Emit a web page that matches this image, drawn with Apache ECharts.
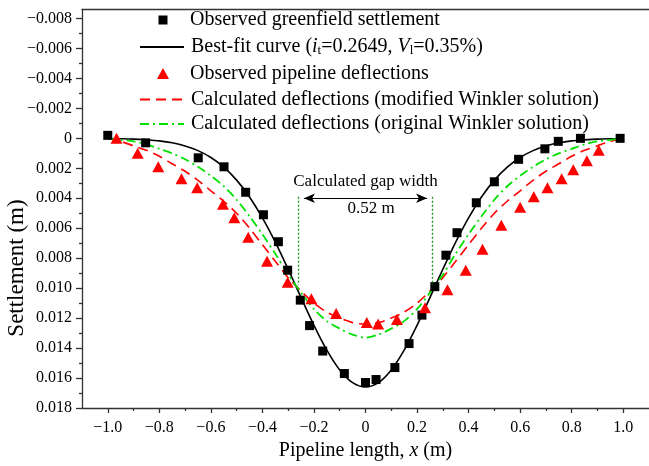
<!DOCTYPE html>
<html>
<head>
<meta charset="utf-8">
<script src="https://cdn.jsdelivr.net/npm/echarts@6/dist/echarts.min.js"></script>
<style>
  html, body { margin: 0; padding: 0; background: #fff; }
  #chart { width: 649px; height: 466px; }
</style>
</head>
<body>
<div id="chart"></div>
<script>
// curves, every 0.05 m
const curveX = [-1.00, -0.95, -0.90, -0.85, -0.80, -0.75, -0.70, -0.65, -0.60, -0.55, -0.50,
  -0.45, -0.40, -0.35, -0.30, -0.25, -0.20, -0.15, -0.10, -0.05, 0,
  0.05, 0.10, 0.15, 0.20, 0.25, 0.30, 0.35, 0.40, 0.45, 0.50,
  0.55, 0.60, 0.65, 0.70, 0.75, 0.80, 0.85, 0.90, 0.95, 1.00];
const bestFit = [0.00002, 0.00003, 0.00005, 0.00010, 0.00017, 0.00030, 0.00051, 0.00082, 0.00128, 0.00192, 0.00279,
  0.00392, 0.00531, 0.00693, 0.00874, 0.01063, 0.01248, 0.01414, 0.01546, 0.01631, 0.01660,
  0.01631, 0.01546, 0.01414, 0.01248, 0.01063, 0.00874, 0.00693, 0.00531, 0.00392, 0.00279,
  0.00192, 0.00128, 0.00082, 0.00051, 0.00030, 0.00017, 0.00010, 0.00005, 0.00003, 0.00002];
const modifiedWinkler = [0.0000, 0.0002, 0.0005, 0.0008, 0.0012, 0.0017, 0.0022, 0.0028, 0.0035, 0.0042, 0.0050,
  0.0060, 0.0071, 0.0082, 0.0093, 0.0102, 0.0110, 0.0116, 0.0120, 0.0123, 0.0124,
  0.0123, 0.0120, 0.0116, 0.0110, 0.0102, 0.0093, 0.0082, 0.0071, 0.0060, 0.0050,
  0.0042, 0.0035, 0.0028, 0.0022, 0.0017, 0.0012, 0.0008, 0.0005, 0.0002, 0.0000];
const originalWinkler = [0.0000, 0.0001, 0.0002, 0.0004, 0.0007, 0.0010, 0.0014, 0.0019, 0.0025, 0.0032, 0.0041,
  0.0052, 0.0064, 0.0077, 0.0091, 0.0103, 0.0114, 0.0122, 0.0127, 0.0131, 0.0133,
  0.0131, 0.0127, 0.0122, 0.0114, 0.0103, 0.0091, 0.0077, 0.0064, 0.0052, 0.0041,
  0.0032, 0.0025, 0.0019, 0.0014, 0.0010, 0.0007, 0.0004, 0.0002, 0.0001, 0.0000];

// measured points
const greenfieldX = [-1.0, -0.853, -0.649, -0.549, -0.465, -0.396, -0.338, -0.302, -0.253, -0.217, -0.166, -0.082, 0.0,
  0.041, 0.114, 0.169, 0.219, 0.269, 0.312, 0.355, 0.430, 0.500, 0.594, 0.696, 0.748, 0.834, 0.988];
const greenfieldY = [-0.0002, 0.0003, 0.0013, 0.0019, 0.0036, 0.0051, 0.0069, 0.0088, 0.0108, 0.0125, 0.0142, 0.0157, 0.0163,
  0.0161, 0.0153, 0.0137, 0.0118, 0.0099, 0.0078, 0.0063, 0.0043, 0.0029, 0.0014, 0.0007, 0.0002, 0.0000, 0.0000];
const pipeX = [-0.966, -0.884, -0.804, -0.714, -0.653, -0.553, -0.509, -0.455, -0.382, -0.302, -0.210, -0.114, 0.005,
  0.049, 0.122, 0.231, 0.318, 0.389, 0.454, 0.527, 0.600, 0.653, 0.706, 0.761, 0.806, 0.859, 0.905];
const pipeY = [0.0000, 0.0010, 0.0019, 0.0027, 0.0033, 0.0044, 0.0053, 0.0066, 0.0082, 0.0096, 0.0107, 0.0117, 0.0123,
  0.0124, 0.0121, 0.0113, 0.0101, 0.0088, 0.0074, 0.0058, 0.0046, 0.0039, 0.0033, 0.0027, 0.0021, 0.0015, 0.0008];

// gap annotation
const gapEdges = [-0.26, 0.26];
const gapArrowY = 0.0040;
const gapLineTop = 0.0039;
const gapLineBottom = 0.0098;

// ticks
const xMajorTicks = [-1.0, -0.8, -0.6, -0.4, -0.2, 0, 0.2, 0.4, 0.6, 0.8, 1.0];
const xMinorTicks = [-0.9, -0.7, -0.5, -0.3, -0.1, 0.1, 0.3, 0.5, 0.7, 0.9];
const yMajorTicks = [-0.008, -0.006, -0.004, -0.002, 0, 0.002, 0.004, 0.006, 0.008, 0.010, 0.012, 0.014, 0.016, 0.018];
const yMinorTicks = [-0.007, -0.005, -0.003, -0.001, 0.001, 0.003, 0.005, 0.007, 0.009, 0.011, 0.013, 0.015, 0.017];

const names = [
  'Observed greenfield settlement',
  'Best-fit curve',
  'Observed pipeline deflections',
  'Calculated deflections (modified Winkler solution)',
  'Calculated deflections (original Winkler solution)'
];

const FONT = '"Liberation Serif", "Times New Roman", serif';
const AXIS_COLOR = '#333';
const X_MIN = -1.1, X_MAX = 1.1, Y_MIN = -0.0086, Y_MAX = 0.018;

const zip = (xs, ys) => xs.map((x, i) => [x, ys[i]]);
const minus = s => s.replace('-', '\u2212');

// one legend per row so every row can have its own icon box
function legendAt(name, opts) {
  const lg = {
    data: [name],
    left: opts.left,
    top: opts.top,
    padding: 0,
    itemWidth: opts.w,
    itemHeight: opts.h,
    selectedMode: false,
    formatter: opts.formatter,
    textStyle: {
      fontFamily: FONT, fontSize: 20, lineHeight: 20, color: '#000',
      rich: {
        sp: { width: opts.pad, fontSize: 20, lineHeight: 20 },
        n: { fontFamily: FONT, fontSize: 20, lineHeight: 20, color: '#000' },
        i: { fontFamily: FONT, fontSize: 20, lineHeight: 20, fontStyle: 'italic', color: '#000' },
        s: { fontFamily: FONT, fontSize: 13, lineHeight: 13, verticalAlign: 'bottom', color: '#000' }
      }
    }
  };
  if (opts.hideSymbol) lg.itemStyle = { opacity: 0 };
  return lg;
}

const chart = echarts.init(document.getElementById('chart'));

const option = {
  animation: false,
  backgroundColor: '#fff',
  grid: { left: 82, right: -3, top: 9.5, bottom: 55.5 },
  legend: [
    legendAt(names[0], { left: 158.5, top: 10, w: 9, h: 9, pad: 17.5, formatter: '{sp| }{n|' + names[0] + '}' }),
    legendAt(names[1], { left: 139, top: 37, w: 44, h: 10, hideSymbol: true, pad: 2,
      formatter: '{sp| }{n|Best-fit curve (}{i|i}{s|t}{n|=0.2649, }{i|V}{s|l}{n|=0.35%)}' }),
    legendAt(names[2], { left: 157, top: 63.5, w: 12, h: 11, pad: 16, formatter: '{sp| }{n|' + names[2] + '}' }),
    legendAt(names[3], { left: 139, top: 89.5, w: 44, h: 10, hideSymbol: true, pad: 2, formatter: '{sp| }{n|' + names[3] + '}' }),
    legendAt(names[4], { left: 139, top: 114, w: 44, h: 10, hideSymbol: true, pad: 2, formatter: '{sp| }{n|' + names[4] + '}' })
  ],
  xAxis: [
    {
      type: 'value', position: 'bottom', min: X_MIN, max: X_MAX,
      name: '{n|Pipeline length, }{i|x}{n| (m)}',
      nameLocation: 'middle', nameGap: 33,
      nameTextStyle: {
        rich: {
          n: { fontFamily: FONT, fontSize: 20, color: '#000' },
          i: { fontFamily: FONT, fontSize: 20, fontStyle: 'italic', color: '#000' }
        }
      },
      axisLine: { show: true, onZero: false, lineStyle: { color: AXIS_COLOR, width: 1.3 } },
      axisTick: { show: true, length: 5, customValues: xMajorTicks, lineStyle: { color: AXIS_COLOR, width: 1.3 } },
      axisLabel: {
        customValues: xMajorTicks, margin: 12,
        fontFamily: FONT, fontSize: 16, color: '#000',
        formatter: v => Math.abs(v) < 1e-9 ? '0' : minus(v.toFixed(1))
      },
      splitLine: { show: false }
    },
    {
      type: 'value', position: 'bottom', min: X_MIN, max: X_MAX,
      axisLine: { show: false, onZero: false },
      axisTick: { show: true, length: 3, customValues: xMinorTicks, lineStyle: { color: AXIS_COLOR, width: 1.3 } },
      axisLabel: { show: false },
      splitLine: { show: false }
    },
    {
      type: 'value', position: 'top', min: X_MIN, max: X_MAX,
      axisLine: { show: true, onZero: false, lineStyle: { color: AXIS_COLOR, width: 1.3 } },
      axisTick: { show: false }, axisLabel: { show: false }, splitLine: { show: false }
    }
  ],
  yAxis: [
    {
      type: 'value', position: 'left', inverse: true, min: Y_MIN, max: Y_MAX,
      axisLine: { show: true, onZero: false, lineStyle: { color: AXIS_COLOR, width: 1.3 } },
      axisTick: { show: true, length: 6, customValues: yMajorTicks, lineStyle: { color: AXIS_COLOR, width: 1.3 } },
      axisLabel: {
        customValues: yMajorTicks, margin: 10,
        fontFamily: FONT, fontSize: 16, color: '#000',
        formatter: v => Math.abs(v) < 1e-9 ? '0' : minus(v.toFixed(3))
      },
      splitLine: { show: false }
    },
    {
      type: 'value', position: 'left', inverse: true, min: Y_MIN, max: Y_MAX,
      axisLine: { show: false, onZero: false },
      axisTick: { show: true, length: 3, customValues: yMinorTicks, lineStyle: { color: AXIS_COLOR, width: 1.3 } },
      axisLabel: { show: false },
      splitLine: { show: false }
    }
  ],
  series: [
    {
      name: names[1], type: 'line', data: zip(curveX, bestFit),
      symbol: 'none', smooth: 0.3, z: 2,
      lineStyle: { color: '#000', width: 1.6 }, itemStyle: { color: '#000' },
      markLine: {
        silent: true, animation: false,
        label: { show: false },
        symbol: ['none', 'none'],
        data: [
          [{ coord: [gapEdges[0], gapLineTop], lineStyle: { color: '#1f9a1f', type: [2, 2], width: 1.4 } },
           { coord: [gapEdges[0], gapLineBottom] }],
          [{ coord: [gapEdges[1], gapLineTop], lineStyle: { color: '#1f9a1f', type: [2, 2], width: 1.4 } },
           { coord: [gapEdges[1], gapLineBottom] }],
          [{ coord: [gapEdges[0] + 0.021, gapArrowY], symbol: 'arrow', symbolSize: [7, 11],
             lineStyle: { color: '#000', type: 'solid', width: 1.2 }, itemStyle: { color: '#000' } },
           { coord: [gapEdges[1] - 0.021, gapArrowY], symbol: 'arrow', symbolSize: [7, 11] }]
        ]
      }
    },
    {
      name: names[3], type: 'line', data: zip(curveX, modifiedWinkler),
      symbol: 'none', smooth: 0.3, z: 2,
      lineStyle: { color: '#ff0000', width: 1.6, type: [10, 6] }, itemStyle: { color: '#ff0000' }
    },
    {
      name: names[4], type: 'line', data: zip(curveX, originalWinkler),
      symbol: 'none', smooth: 0.3, z: 2,
      lineStyle: { color: '#00e000', width: 1.8, type: [9, 4, 2, 4] }, itemStyle: { color: '#00e000' }
    },
    {
      name: names[0], type: 'scatter', data: zip(greenfieldX, greenfieldY),
      symbol: 'rect', symbolSize: 9, z: 3,
      itemStyle: { color: '#000', opacity: 1 }
    },
    {
      name: names[2], type: 'scatter', data: zip(pipeX, pipeY),
      symbol: 'triangle', symbolSize: [12, 11], z: 3,
      itemStyle: { color: '#ff0000', opacity: 1 }
    }
  ]
};

chart.setOption(option);

// texts placed in data coordinates
const titlePos = chart.convertToPixel({ xAxisIndex: 0, yAxisIndex: 0 }, [0, 0.0029]);
const widthPos = chart.convertToPixel({ xAxisIndex: 0, yAxisIndex: 0 }, [0.022, 0.0047]);
chart.setOption({
  graphic: [
    {
      type: 'text', x: titlePos[0], y: titlePos[1],
      style: { text: 'Calculated gap width', font: '17px ' + FONT, fill: '#000', align: 'center', verticalAlign: 'middle' }
    },
    {
      type: 'text', x: widthPos[0], y: widthPos[1],
      style: { text: '0.52 m', font: '17px ' + FONT, fill: '#000', align: 'center', verticalAlign: 'middle' }
    },
    {
      type: 'text', x: 17, y: 268, rotation: Math.PI / 2,
      style: { text: 'Settlement (m)', font: '23px ' + FONT, fill: '#000', align: 'center', verticalAlign: 'middle' }
    }
  ]
});
</script>
</body>
</html>
